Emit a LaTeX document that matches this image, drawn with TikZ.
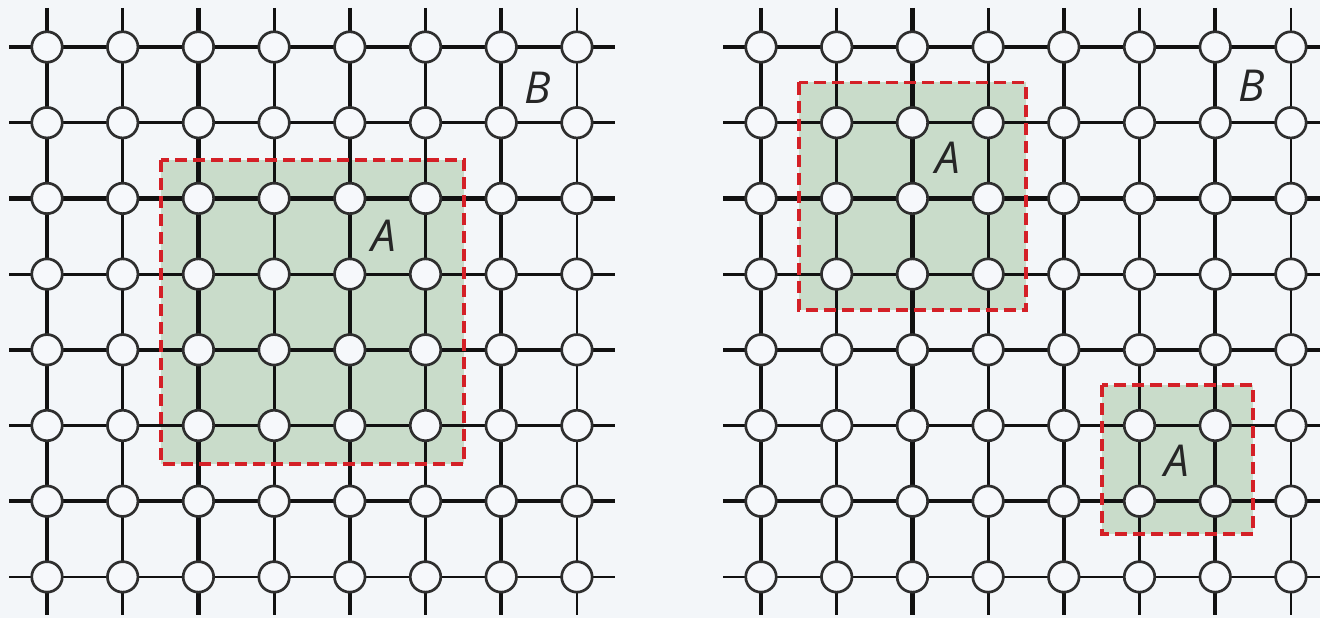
\documentclass[tikz,border=0pt]{standalone}
\usepackage{fontspec}
\setmainfont{Open Sans}
\definecolor{bgcol}{HTML}{F3F6F9}
\definecolor{regfill}{HTML}{C9DCCA}
\definecolor{regline}{HTML}{D42027}
\definecolor{vtxline}{HTML}{2E2E2E}
\definecolor{vtxfill}{HTML}{F6F8FB}
\definecolor{gridline}{HTML}{111111}
\tikzset{
  vtx/.style={circle, minimum size=30.5pt, inner sep=0pt, draw=vtxline, line width=2.7pt, fill=vtxfill},
  region/.style={fill=regfill},
  regionborder/.style={draw=regline, line width=3.6pt, dash pattern=on 12pt off 6pt},
  lab/.style={font=\fontsize{44}{44}\selectfont\itshape, text=black!85, inner sep=0pt},
  gline/.style={draw=gridline}
}
\begin{document}
\begin{tikzpicture}[x=1pt,y=-1pt]
\useasboundingbox (0,0) rectangle (1320,618);
\fill[bgcol] (0,0) rectangle (1320,618);
% shaded regions
\fill[region] (161,160) rectangle (464,464);
\fill[region] (799,82.5) rectangle (1026,310);
\fill[region] (1102,385) rectangle (1253,534);
% grids
\foreach \ox/\g in {0/L,714/R}{
  \foreach \i in {0,...,7}{
    \pgfmathsetmacro{\p}{47+75.7*\i}
    \pgfmathsetmacro{\w}{mod(\i,2)==0 ? 4.2 : 2.8}
    \coordinate (\g h\i s) at (\ox+9,\p);
    \coordinate (\g h\i e) at (\ox+615,\p);
    \coordinate (\g v\i s) at (\ox+\p,8);
    \coordinate (\g v\i e) at (\ox+\p,615);
    \draw[gline, line width=\w pt] (\g h\i s) -- (\g h\i e);
    \draw[gline, line width=\w pt] (\g v\i s) -- (\g v\i e);
  }
  \foreach \i in {0,...,7}{
    \foreach \j in {0,...,7}{
      \node[vtx] (\g-\i-\j) at (\ox+47+75.7*\i, 47+75.7*\j) {};
    }
  }
}
% region borders
\draw[regionborder] (161,160) rectangle (464,464);
\draw[regionborder] (799,82.5) rectangle (1026,310);
\draw[regionborder] (1102,385) rectangle (1253,534);
% labels
\node[lab] (LB) at (538,88) {B};
\node[lab] (LA) at (384,236) {A};
\node[lab] (RB) at (1252,86) {B};
\node[lab] (RA1) at (948,158) {A};
\node[lab] (RA2) at (1177,461) {A};
\end{tikzpicture}
\end{document}
